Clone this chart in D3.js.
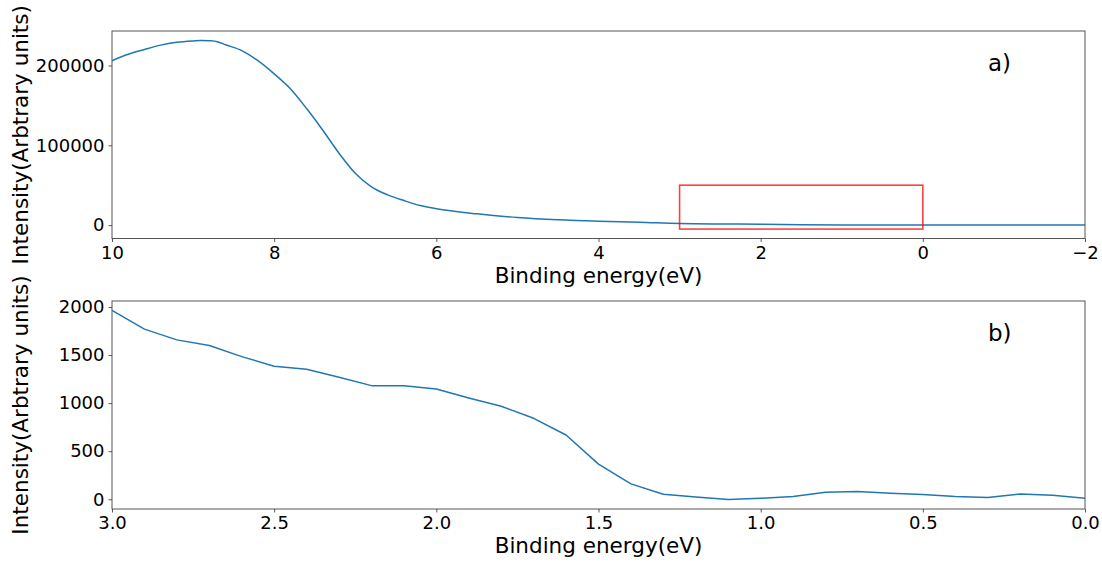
<!DOCTYPE html>
<html>
<head>
  <meta charset="utf-8">
  <script src="https://d3js.org/d3.v7.min.js"></script>
  <style>
    body { margin: 0; background: #fff; }
    text { font-family: "DejaVu Sans", sans-serif; fill: #000; }
  </style>
</head>
<body>
<script type="text/javascript">

/*************************************************************************************************/
/* Data */

var top_energy = [10, 9.8, 9.6, 9.4, 9.2, 9.0, 8.9, 8.8, 8.7, 8.6, 8.4, 8.2, 8.0, 7.8, 7.6, 7.4, 7.2,
                  7.0, 6.8, 6.6, 6.4, 6.2, 6.0, 5.5, 5.0, 4.5, 4.0, 3.5, 3.0, 2.5, 2.0, 1.5, 1.0,
                  0.5, 0, -0.5, -1, -1.5, -2];
var top_intensity = [206000, 214000, 220000, 225500, 229000, 230800, 231400, 231000, 229800, 226000,
                     218600, 206000, 189500, 170800, 146000, 118800, 90000, 65000, 48000, 37800,
                     30700, 24500, 20500, 14100, 9500, 6600, 4800, 3600, 2000, 1400, 1150, 400, 50,
                     30, 20, 10, 10, 10, 10];

var zoom_energy = [3.0, 2.9, 2.8, 2.7, 2.6, 2.5, 2.4, 2.3, 2.2, 2.1, 2.0, 1.9, 1.8, 1.7, 1.6, 1.5,
                   1.4, 1.3, 1.2, 1.1, 1.0, 0.9, 0.8, 0.7, 0.6, 0.5, 0.4, 0.3, 0.2, 0.1, 0.0];
var zoom_intensity = [1964, 1770, 1658, 1599, 1484, 1384, 1353, 1269, 1182, 1182, 1147, 1053, 967,
                      842, 668, 365, 160, 52, 24, -3, 10, 28, 73, 80, 63, 49, 28, 18, 55, 42, 10];

// zoom window drawn on panel a)
var box_energy = [3, 0];
var box_intensity = [-5000, 50000];

var top_xticks = [10, 8, 6, 4, 2, 0, -2];
var top_yticks = [0, 100000, 200000];
var zoom_xticks = [3.0, 2.5, 2.0, 1.5, 1.0, 0.5, 0.0];
var zoom_yticks = [0, 500, 1000, 1500, 2000];

var panel_labels = ["a)", "b)"];

/*************************************************************************************************/

function draw() {
    "use strict";

    var w = 1102;
    var h = 562;

    var line_color = "#1f77b4";
    var spine_color = "#555";

    var svg = d3.select("body")
                .append("svg")
                .attr("width", w)
                .attr("height", h);

    svg.append("rect").attr("width", w).attr("height", h).attr("fill", "#fff");

    // matplotlib style 5% margins
    function padded(vals) {
        var ext = d3.extent(vals);
        var r = ext[1] - ext[0];
        return [ext[0] - 0.05 * r, ext[1] + 0.05 * r];
    }

    function fmt_minus(s) { return String(s).replace("-", "\u2212"); }

    function panel(opt) {
        var g = svg.append("g");

        var x = d3.scaleLinear().domain(opt.xdomain).range([opt.left, opt.right]);
        var y = d3.scaleLinear().domain(opt.ydomain).range([opt.bottom, opt.top]);

        // data line
        var line = d3.line()
                     .curve(opt.curve)
                     .x(function(d) { return x(d[0]); })
                     .y(function(d) { return y(d[1]); });

        g.append("path")
         .datum(d3.zip(opt.xs, opt.ys))
         .attr("d", line)
         .attr("fill", "none")
         .attr("stroke", line_color)
         .attr("stroke-width", 1.5)
         .attr("stroke-linejoin", "round");

        if (opt.box) {
            g.append("rect")
             .attr("x", x(opt.box.x[0]))
             .attr("y", y(opt.box.y[1]))
             .attr("width", x(opt.box.x[1]) - x(opt.box.x[0]))
             .attr("height", y(opt.box.y[0]) - y(opt.box.y[1]))
             .attr("fill", "none")
             .attr("stroke", "red")
             .attr("stroke-opacity", 0.75)
             .attr("stroke-width", 1.6);
        }

        // spines
        g.append("rect")
         .attr("x", opt.left).attr("y", opt.top)
         .attr("width", opt.right - opt.left)
         .attr("height", opt.bottom - opt.top)
         .attr("fill", "none")
         .attr("stroke", spine_color)
         .attr("stroke-width", 1);

        // axes
        var xaxis = g.append("g")
                     .attr("transform", "translate(0," + opt.bottom + ")")
                     .call(d3.axisBottom(x).tickValues(opt.xticks)
                             .tickSize(3.5).tickPadding(4)
                             .tickFormat(opt.xfmt));
        var yaxis = g.append("g")
                     .attr("transform", "translate(" + opt.left + ",0)")
                     .call(d3.axisLeft(y).tickValues(opt.yticks)
                             .tickSize(3.5).tickPadding(4)
                             .tickFormat(opt.yfmt));

        [xaxis, yaxis].forEach(function(a) {
            a.select(".domain").remove();
            a.selectAll("line").attr("stroke", "#333").attr("stroke-width", 0.8);
            a.selectAll("text")
             .style("font-family", "DejaVu Sans")
             .style("font-size", "18px")
             .attr("fill", "#000");
        });
        xaxis.selectAll("text").attr("dy", "0.72em");

        // labels
        g.append("text")
         .attr("x", (opt.left + opt.right) / 2)
         .attr("y", opt.xlabel_y)
         .attr("text-anchor", "middle")
         .style("font-size", "21.5px")
         .text("Binding energy(eV)");

        g.append("text")
         .attr("transform", "translate(" + 28 + "," + ((opt.top + opt.bottom) / 2) + ") rotate(-90)")
         .attr("text-anchor", "middle")
         .style("font-size", "21.5px")
         .text("Intensity(Arbtrary units)");

        g.append("text")
         .attr("x", 988)
         .attr("y", opt.tag_y)
         .style("font-size", "23px")
         .text(opt.tag);
    }

/*************************************************************************************************/
/* Panel a) full range */

    panel({
        left: 112, right: 1085, top: 31, bottom: 238.5,
        xdomain: [10, -2],
        ydomain: padded(top_intensity.concat(box_intensity)),
        xs: top_energy, ys: top_intensity,
        curve: d3.curveMonotoneX,
        xticks: top_xticks, yticks: top_yticks,
        xfmt: function(d) { return fmt_minus(d); },
        yfmt: function(d) { return String(d); },
        box: { x: box_energy, y: box_intensity },
        xlabel_y: 283,
        tag: panel_labels[0], tag_y: 71
    });

/*************************************************************************************************/
/* Panel b) zoom */

    panel({
        left: 112, right: 1085, top: 301, bottom: 509,
        xdomain: [3, 0],
        ydomain: padded(zoom_intensity),
        xs: zoom_energy, ys: zoom_intensity,
        curve: d3.curveLinear,
        xticks: zoom_xticks, yticks: zoom_yticks,
        xfmt: d3.format(".1f"),
        yfmt: function(d) { return String(d); },
        box: null,
        xlabel_y: 553,
        tag: panel_labels[1], tag_y: 341
    });
}

draw();

</script>
</body>
</html>
